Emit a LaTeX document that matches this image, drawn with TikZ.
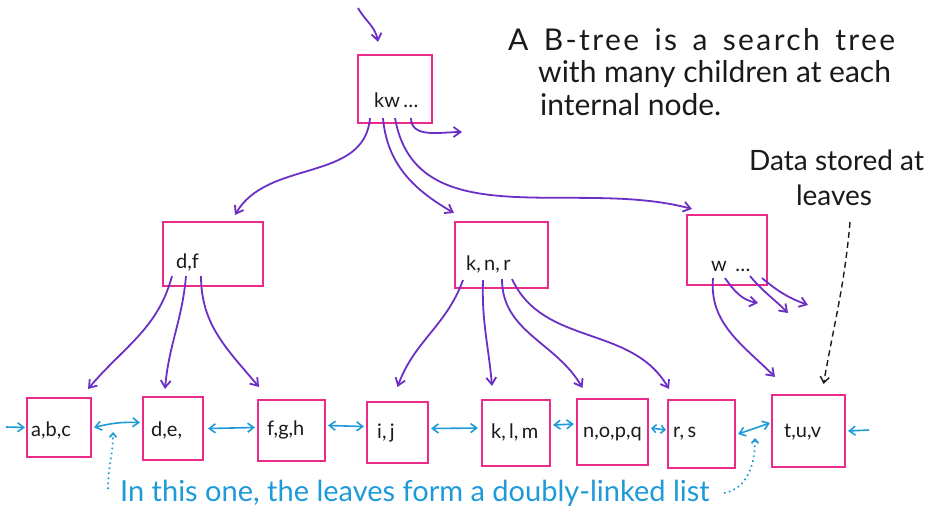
\documentclass[tikz,border=0pt]{standalone}
\usepackage{fontspec}
\setmainfont{Lato}
\newfontfamily\spreadfont[LetterSpace=8]{Lato}
\usetikzlibrary{arrows.meta}
\definecolor{boxpink}{HTML}{EC2A8A}
\definecolor{ptrpurple}{HTML}{6B2FC6}
\definecolor{listblue}{HTML}{1E9AD9}
\definecolor{ink}{HTML}{1A1A1A}
\begin{document}
\begin{tikzpicture}[x=1pt,y=-1pt,
  keybox/.style={draw=boxpink, line width=2.1pt, inner sep=0pt},
  keytext/.style={text=ink, font=\fontsize{20}{23}\selectfont, inner sep=0pt, anchor=west},
  ptr/.style={draw=ptrpurple, line width=1.8pt, -{Straight Barb[length=7pt,width=10pt]}},
  link/.style={draw=listblue, line width=1.6pt,
    {Straight Barb[length=6pt,width=9pt]}-{Straight Barb[length=6pt,width=9pt]}},
  shortlink/.style={draw=listblue, line width=1.6pt,
    {Straight Barb[length=4pt,width=8pt]}-{Straight Barb[length=4pt,width=8pt]}},
  inlink/.style={draw=listblue, line width=1.6pt, -{Straight Barb[length=6pt,width=9pt]}},
  hint/.style={draw=listblue, line width=1.7pt, dash pattern=on 1.6pt off 3.4pt,
    -{Straight Barb[length=4pt,width=7pt]}},
  note/.style={text=ink, font=\fontsize{30}{35}\selectfont, inner sep=0pt, anchor=base west},
  sidenote/.style={text=ink, font=\fontsize{28}{32}\selectfont, inner sep=0pt, anchor=base west},
  bluenote/.style={text=listblue, font=\fontsize{29}{33}\selectfont, inner sep=0pt, anchor=base west},
]
\useasboundingbox (0,0) rectangle (926,512);

% ---- root, internal level ----
\node[keybox, minimum width=74pt, minimum height=68pt] (root) at (395,89) {};
\node[keytext] (rootkeys) at (374,100) {kw\,\ldots};

\node[keybox, minimum width=100pt, minimum height=64pt] (df) at (213,254) {};
\node[keytext] (dfkeys) at (176,262) {d,f};

\node[keybox, minimum width=93pt, minimum height=66pt] (knr) at (501.5,255) {};
\node[keytext] (knrkeys) at (466,264) {k,\,n,\,r};

\node[keybox, minimum width=80pt, minimum height=70pt] (wn) at (727,250) {};
\node[keytext] (wkeys) at (711,266) {w\, \ldots};

% ---- leaves ----
\node[keybox, minimum width=64pt, minimum height=59pt] (l1) at (59,427.5) {};
\node[keybox, minimum width=60pt, minimum height=63pt] (l2) at (173,428.5) {};
\node[keybox, minimum width=67pt, minimum height=61pt] (l3) at (291.5,430.5) {};
\node[keybox, minimum width=61pt, minimum height=61pt] (l4) at (397.5,432.5) {};
\node[keybox, minimum width=68pt, minimum height=66pt] (l5) at (516,433) {};
\node[keybox, minimum width=71pt, minimum height=66pt] (l6) at (612.5,432) {};
\node[keybox, minimum width=67pt, minimum height=68pt] (l7) at (701.5,434) {};
\node[keybox, minimum width=73pt, minimum height=72pt] (l8) at (808.5,431) {};

\node[keytext] at (31,430) {a,b,c};
\node[keytext] at (151,430) {d,e,};
\node[keytext] at (267,430) {f,g,h};
\node[keytext] at (377,433) {i,\,j};
\node[keytext] at (491,432) {k,\,l,\,m};
\node[keytext] at (583,434) {n,o,p,q};
\node[keytext] at (673,434) {r,\,s};
\node[keytext] at (784,432) {t,u,v};

% ---- pointers from the root ----
\coordinate (rootin) at (358,8);
\coordinate (rootmore) at (462,132);
\draw[ptr] (rootin) to[out=-60,in=100] ([xshift=-17pt,yshift=12pt]root.north);
\draw[ptr] ([xshift=-25pt,yshift=6pt]root.south) to[out=-95,in=60] ([xshift=22pt,yshift=6pt]df.north);
\draw[ptr] ([xshift=-12pt,yshift=6pt]root.south) to[out=-85,in=150] ([yshift=8pt]knr.north west);
\draw[ptr] ([yshift=6pt]root.south) to[out=-80,in=165] ([xshift=6pt,yshift=5pt]wn.north west);
\draw[ptr] ([xshift=16pt,yshift=6pt]root.south) to[out=-90,in=180] (rootmore);

% ---- pointers from the internal nodes ----
\draw[ptr] ([xshift=-41pt,yshift=11pt]df.south) to[out=-105,in=50] ([xshift=-4pt,yshift=8pt]l1.north east);
\draw[ptr] ([xshift=-27pt,yshift=11pt]df.south) to[out=-95,in=85] ([xshift=-8pt,yshift=7pt]l2.north);
\draw[ptr] ([xshift=-12pt,yshift=11pt]df.south) to[out=-90,in=130] ([xshift=2pt,yshift=12pt]l3.north west);

\draw[ptr] ([xshift=-38.5pt,yshift=9pt]knr.south) to[out=-110,in=70] ([yshift=14pt]l4.north);
\draw[ptr] ([xshift=-18.5pt,yshift=9pt]knr.south) to[out=-92,in=95] ([xshift=-24pt,yshift=13pt]l5.north);
\draw[ptr] ([xshift=0.5pt,yshift=10pt]knr.south) to[out=-90,in=120] ([xshift=-30pt,yshift=10pt]l6.north);
\draw[ptr] ([xshift=10.5pt,yshift=10pt]knr.south) to[out=-65,in=120] ([xshift=2pt,yshift=10pt]l7.north west);

\coordinate (wmoreA) at (758,303);
\coordinate (wmoreB) at (788,313);
\coordinate (wmoreC) at (808,305);
\draw[ptr] ([xshift=-14pt,yshift=8pt]wn.south) to[out=-95,in=135] ([xshift=-33.5pt,yshift=17pt]l8.north);
\draw[ptr] ([xshift=-2pt,yshift=8pt]wn.south) to[out=-55,in=170] (wmoreA);
\draw[ptr] ([xshift=23pt,yshift=10pt]wn.south) to[out=-50,in=135] (wmoreB);
\draw[ptr] ([xshift=35pt,yshift=8pt]wn.south) to[out=-40,in=160] (wmoreC);

% ---- doubly linked leaves ----
\coordinate (listhead) at (6,427);
\coordinate (listtail) at (869,430);
\draw[inlink] (listhead) -- ([xshift=-1pt]l1.west);
\draw[inlink] (listtail) -- ([xshift=2pt]l8.east);
\draw[link] ([xshift=2pt]l1.east) to[bend left=8] ([xshift=-2pt,yshift=6pt]l2.west);
\draw[link] ([xshift=4pt]l2.east) -- ([xshift=-2pt,yshift=3pt]l3.west);
\draw[link] ([xshift=2pt,yshift=5pt]l3.east) -- ([xshift=-2pt,yshift=6pt]l4.west);
\draw[link] ([xshift=2pt,yshift=4pt]l4.east) -- ([xshift=-3pt,yshift=5pt]l5.west);
\draw[link] ([xshift=2pt,yshift=8pt]l5.east) -- ([xshift=-2pt,yshift=8pt]l6.west);
\draw[shortlink] ([xshift=2pt,yshift=4pt]l6.east) -- ([xshift=-1pt,yshift=4pt]l7.west);
\draw[link] ([xshift=2pt]l7.east) -- ([xshift=-1pt,yshift=8pt]l8.west);

% ---- notes ----
\node[note] (about1) at (508,50) {\makebox[387pt][s]{\spreadfont A B-tree is a search tree}};
\node[note] (about2) at (538,82) {with many children at each};
\node[note] (about3) at (540,115) {internal node.};

\node[sidenote] (data1) at (749,170) {Data stored at};
\node[sidenote, anchor=base] (data2) at (834,205) {leaves};
\coordinate (datafrom) at (850,222);
\draw[ink, line width=1.4pt, dash pattern=on 6pt off 4pt, -{Straight Barb[length=6pt,width=9pt]}]
  (datafrom) to[out=-95,in=80] ([xshift=15pt,yshift=10pt]l8.north);

\node[bluenote] (listnote) at (120,501) {In this one, the leaves form a doubly-linked list};
\coordinate (hintL) at (108,489);
\coordinate (hintLend) at (113,432);
\coordinate (hintR) at (724,493);
\coordinate (hintRend) at (755,438);
\draw[hint] (hintL) to[out=90,in=-90] (hintLend);
\draw[hint] (hintR) to[out=10,in=-90] (hintRend);
\end{tikzpicture}
\end{document}
